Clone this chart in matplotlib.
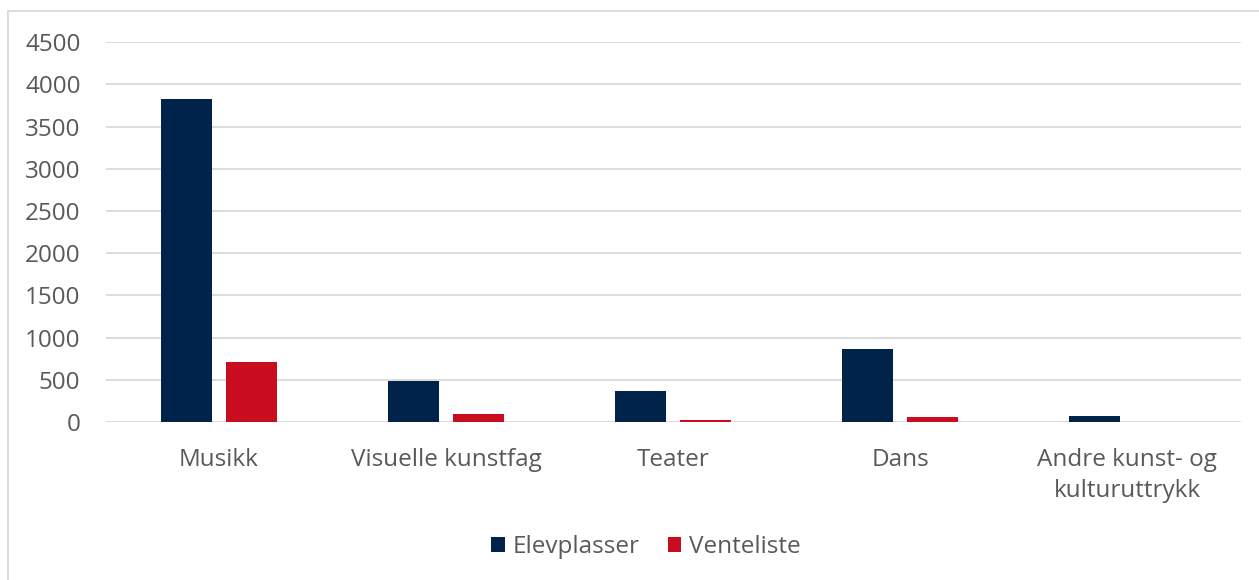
import matplotlib
matplotlib.use("Agg")
import matplotlib.pyplot as plt
from matplotlib.patches import Rectangle
import numpy as np

categories = ["Musikk", "Visuelle kunstfag", "Teater", "Dans", "Andre kunst- og\nkulturuttrykk"]
elevplasser = [3825, 482, 367, 861, 71]
venteliste = [711, 98, 25, 59, 4]
yticks = [0, 500, 1000, 1500, 2000, 2500, 3000, 3500, 4000, 4500]

navy = "#002349"
red = "#C90C1F"
grey_text = "#595959"
grid_col = "#D9D9D9"

plt.rcParams['font.family'] = ['Open Sans', 'DejaVu Sans']
FS = 17.5

W, H = 1259, 580
fig = plt.figure(figsize=(W/100, H/100), dpi=100)
left, right, top, bottom = 105.5, 1240.5, 42.2, 422.0
ax = fig.add_axes([left/W, 1-bottom/H, (right-left)/W, (bottom-top)/H])

x = np.arange(len(categories))
bw = 0.225
off = (bw + 14/227) / 2
ax.bar(x - off, elevplasser, width=bw, color=navy, label="Elevplasser", zorder=3)
ax.bar(x + off, venteliste, width=bw, color=red, label="Venteliste", zorder=3)

ax.set_xlim(-0.5, len(categories) - 0.5)
ax.set_ylim(0, 4500)
ax.set_yticks(yticks)
ax.set_yticklabels([str(t) for t in yticks], fontsize=FS, color=grey_text)
ax.set_xticks(x)
ax.set_xticklabels(categories, fontsize=FS, color=grey_text, linespacing=1.36)
ax.tick_params(axis='both', length=0)
ax.tick_params(axis='y', pad=18)
ax.tick_params(axis='x', pad=19)
ax.grid(axis='y', color=grid_col, linewidth=1.3, zorder=0)
for s in ax.spines.values():
    s.set_visible(False)

leg = fig.legend(loc='center', bbox_to_anchor=(646/W, 1-547/H), ncol=2, frameon=False,
                 fontsize=FS, handlelength=0.55, handleheight=0.55, handletextpad=0.33,
                 columnspacing=1.15)
for t in leg.get_texts():
    t.set_color(grey_text)

fig.patches.append(Rectangle((8/W, -0.1), 1.2, 1 - 11/H + 0.1, transform=fig.transFigure,
                             fill=False, edgecolor=grid_col, linewidth=1.3))

fig.savefig("out.png", dpi=100)
